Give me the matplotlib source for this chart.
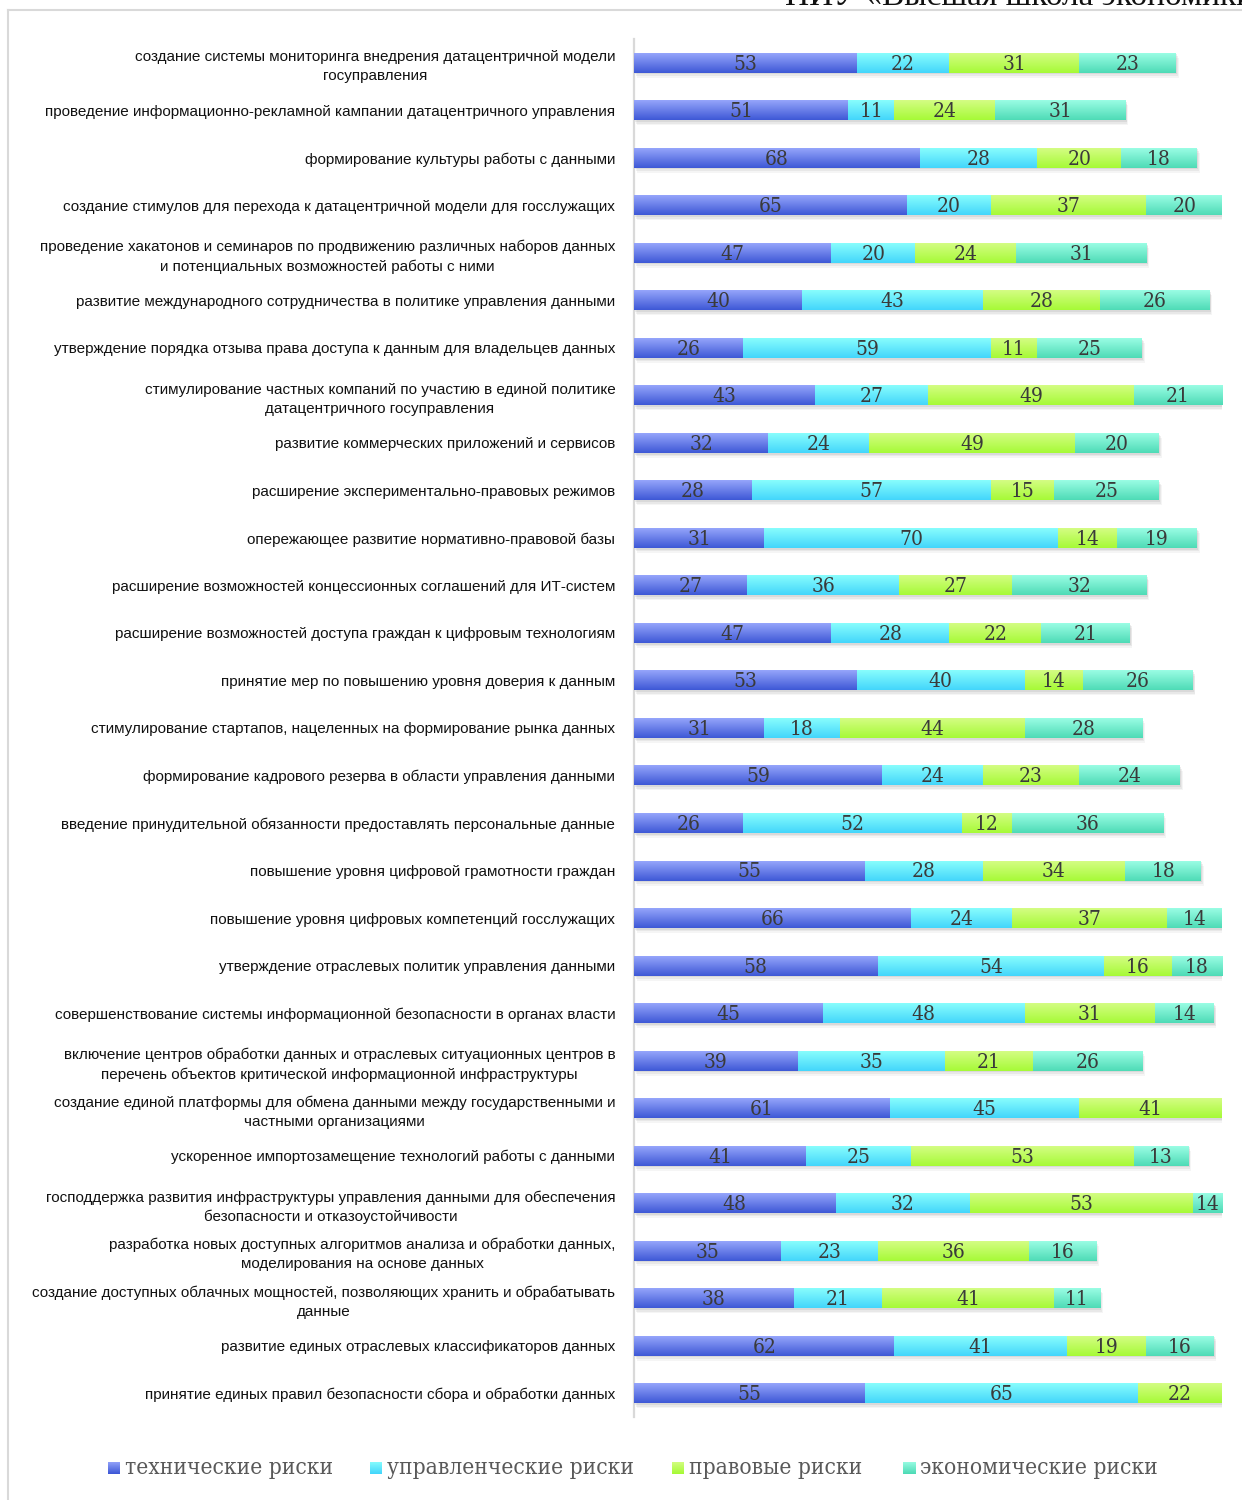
import numpy as np
import matplotlib
matplotlib.use("Agg")
import matplotlib.pyplot as plt
from matplotlib import patheffects as pe
from matplotlib.lines import Line2D
from matplotlib.colors import to_rgb

categories = [
    "создание системы мониторинга внедрения датацентричной модели\nгосуправления",
    "проведение информационно-рекламной кампании датацентричного управления",
    "формирование культуры работы с данными",
    "создание стимулов для перехода к датацентричной модели для госслужащих",
    "проведение хакатонов и семинаров по продвижению различных наборов данных\nи потенциальных возможностей работы с ними",
    "развитие международного сотрудничества в политике управления данными",
    "утверждение порядка отзыва права доступа к данным для владельцев данных",
    "стимулирование частных компаний по участию в единой политике\nдатацентричного госуправления",
    "развитие коммерческих приложений и сервисов",
    "расширение экспериментально-правовых режимов",
    "опережающее развитие нормативно-правовой базы",
    "расширение возможностей концессионных соглашений для ИТ-систем",
    "расширение возможностей доступа граждан к цифровым технологиям",
    "принятие мер по повышению уровня доверия к данным",
    "стимулирование стартапов, нацеленных на формирование рынка данных",
    "формирование кадрового резерва в области управления данными",
    "введение принудительной обязанности предоставлять персональные данные",
    "повышение уровня цифровой грамотности граждан",
    "повышение уровня цифровых компетенций госслужащих",
    "утверждение отраслевых политик управления данными",
    "совершенствование системы информационной безопасности в органах власти",
    "включение центров обработки данных и отраслевых ситуационных центров в\nперечень объектов критической информационной инфраструктуры",
    "создание единой платформы для обмена данными между государственными и\nчастными организациями",
    "ускоренное импортозамещение технологий работы с данными",
    "господдержка развития инфраструктуры управления данными для обеспечения\nбезопасности и отказоустойчивости",
    "разработка новых доступных алгоритмов анализа и обработки данных,\nмоделирования на основе данных",
    "создание доступных облачных мощностей, позволяющих хранить и обрабатывать\nданные",
    "развитие единых отраслевых классификаторов данных",
    "принятие единых правил безопасности сбора и обработки данных",
]

technical = [53, 51, 68, 65, 47, 40, 26, 43, 32, 28, 31, 27, 47, 53, 31, 59, 26, 55, 66, 58,
             45, 39, 61, 41, 48, 35, 38, 62, 55]
managerial = [22, 11, 28, 20, 20, 43, 59, 27, 24, 57, 70, 36, 28, 40, 18, 24, 52, 28, 24, 54,
              48, 35, 45, 25, 32, 23, 21, 41, 65]
legal = [31, 24, 20, 37, 24, 28, 11, 49, 49, 15, 14, 27, 22, 14, 44, 23, 12, 34, 37, 16,
         31, 21, 41, 53, 53, 36, 41, 19, 22]
economic = [23, 31, 18, 20, 31, 26, 25, 21, 20, 25, 19, 32, 21, 26, 28, 24, 36, 18, 14, 18,
            14, 26, np.nan, 13, 14, 16, 11, 16, np.nan]

series_names = ["технические риски", "управленческие риски", "правовые риски", "экономические риски"]
series_values = [technical, managerial, legal, economic]
# gradient colours per series: (top, bottom)
series_colors = [("#95A5FB", "#3E58D6"),
                 ("#88FDFD", "#43D6FB"),
                 ("#D4FD84", "#A6FA36"),
                 ("#9AFDE4", "#4EDBB6")]

XMAX = 140

W, H = 1242, 1500
fig = plt.figure(figsize=(W / 100, H / 100), dpi=100)
fig.patch.set_facecolor("white")

# plot area in pixel coordinates
ax_left, ax_right, ax_top, ax_bottom = 634, 1222, 39, 1417
ax = fig.add_axes([ax_left / W, 1 - ax_bottom / H, (ax_right - ax_left) / W, (ax_bottom - ax_top) / H])

n = len(categories)
y = np.arange(n)
bar_h = 0.42

shadow = [pe.SimplePatchShadow(offset=(0.8, -1.2), shadow_rgbFace="#9a9a9a", alpha=0.18),
          pe.SimplePatchShadow(offset=(1.4, -2.4), shadow_rgbFace="#9a9a9a", alpha=0.14),
          pe.SimplePatchShadow(offset=(2.0, -3.6), shadow_rgbFace="#9a9a9a", alpha=0.09),
          pe.Normal()]

left = np.zeros(n)
for vals, (c_top, c_bot) in zip(series_values, series_colors):
    v = np.array(vals, dtype=float)
    vv = np.nan_to_num(v)
    bars = ax.barh(y, vv, left=left, height=bar_h, facecolor="none", edgecolor="none",
                   zorder=2)
    t = np.linspace(0, 1, 64)[:, None, None]
    grad = (1 - t) * np.array(to_rgb(c_top)) + t * np.array(to_rgb(c_bot))
    for i, patch in enumerate(bars):
        if np.isnan(v[i]) or vv[i] == 0:
            continue
        patch.set_path_effects(shadow)
        x0, w = patch.get_x(), patch.get_width()
        y0, h = patch.get_y(), patch.get_height()
        ax.imshow(grad, extent=(x0, x0 + w, y0 + h, y0), origin="upper",
                  aspect="auto", interpolation="bilinear", zorder=3)
        # value label centred on the visible part of the segment
        vis_r = min(x0 + w, XMAX)
        xc = (x0 + vis_r) / 2
        ax.text(xc, y[i] + 0.03, f"{int(v[i])}", ha="center", va="center",
                fontsize=15, family="DejaVu Serif", fontstretch="condensed",
                color="#3a3a3a", zorder=4)
    left = left + vv

ax.set_xlim(0, XMAX)
ax.set_ylim(n - 0.5, -0.5)
ax.set_yticks(y)
ax.set_yticklabels(categories, fontsize=11, family="Liberation Sans", color="#111111")
for lbl in ax.get_yticklabels():
    lbl.set_multialignment("center")
    lbl.set_linespacing(1.45)
ax.tick_params(axis="y", length=0, pad=13.5)
ax.set_xticks([])
for side in ("top", "right", "bottom"):
    ax.spines[side].set_visible(False)
ax.spines["left"].set_color("#d9d9d9")
ax.spines["left"].set_linewidth(1.6)
ax.set_facecolor("none")

# outer frame
fig.add_artist(Line2D([8 / W, 1], [1 - 10 / H, 1 - 10 / H], color="#d9d9d9", lw=1.5))
fig.add_artist(Line2D([8 / W, 8 / W], [0, 1 - 10 / H], color="#d9d9d9", lw=1.5))

# header line above the chart
fig.text(785 / W, 1 - 5 / H, "НИУ «Высшая школа экономики»", ha="left", va="baseline",
         fontsize=24, family="Liberation Serif", color="#111111")

# legend
legend_sq_x = [108, 370, 672, 903]
ly = 1468
for (c_top, c_bot), name, sx in zip(series_colors, series_names, legend_sq_x):
    t = np.linspace(0, 1, 16)[:, None, None]
    grad = (1 - t) * np.array(to_rgb(c_top)) + t * np.array(to_rgb(c_bot))
    sax = fig.add_axes([sx / W, 1 - (ly + 6.5) / H, 12 / W, 13 / H])
    sax.imshow(grad, aspect="auto", extent=(0, 1, 0, 1))
    sax.set_axis_off()
    fig.text((sx + 17) / W, 1 - ly / H, name, ha="left", va="center", fontsize=16.3,
             family="DejaVu Serif", fontstretch="condensed", color="#595959")

fig.savefig("out.png", dpi=100, facecolor="white")
